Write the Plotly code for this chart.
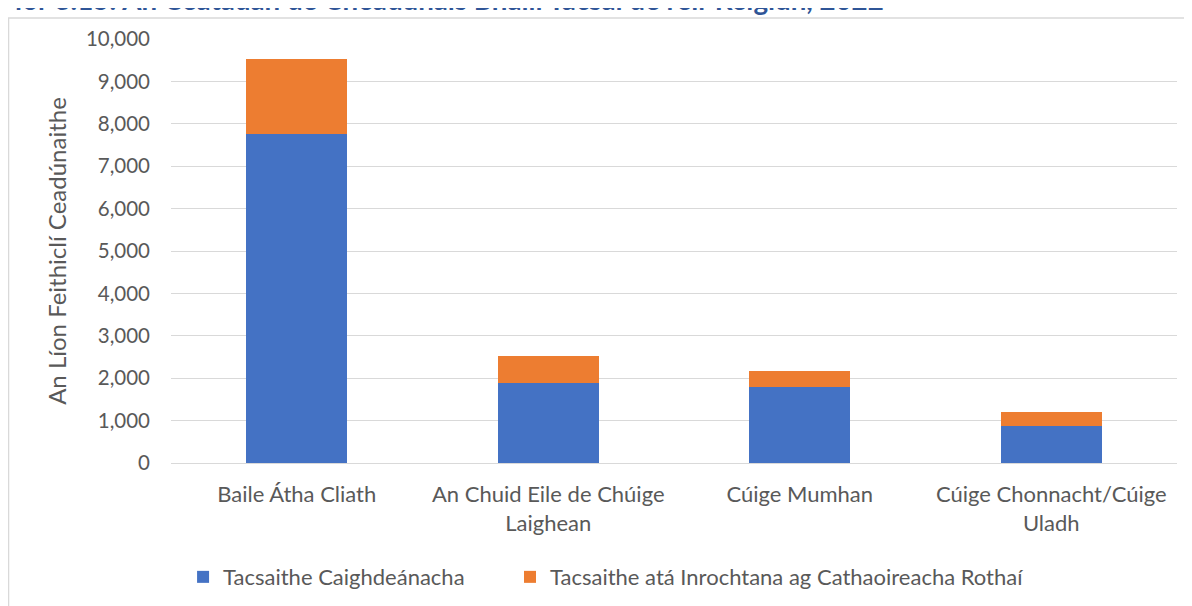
import plotly.graph_objects as go

regions = [
    'Baile Átha Cliath',
    'An Chuid Eile de Chúige<br>Laighean',
    'Cúige Mumhan',
    'Cúige Chonnacht/Cúige<br>Uladh',
]
standard_taxis = [7750, 1887, 1783, 863]
wheelchair_taxis = [1778, 627, 394, 330]

FONT = 'Lato'
GREY = '#595959'

fig = go.Figure()

fig.add_trace(
    go.Bar(
        x=regions,
        y=standard_taxis,
        name='Tacsaithe Caighdeánacha',
        marker=dict(color='#4472C4', line=dict(width=0)),
        legend='legend',
    )
)
fig.add_trace(
    go.Bar(
        x=regions,
        y=wheelchair_taxis,
        name='Tacsaithe atá Inrochtana ag Cathaoireacha Rothaí',
        marker=dict(color='#ED7D31', line=dict(width=0)),
        legend='legend2',
    )
)

legend_style = dict(
    orientation='h',
    xanchor='left',
    y=-0.269,
    yanchor='middle',
    font=dict(family=FONT, size=22, color=GREY),
    itemwidth=30,
    bgcolor='rgba(0,0,0,0)',
)

# the page body adds an 8 px offset, so the margins are shifted to match
fig.update_layout(
    barmode='stack',
    bargap=0.6,
    width=1192,
    height=606,
    autosize=False,
    margin=dict(l=163, r=23, t=31, b=151, autoexpand=False),
    paper_bgcolor='white',
    plot_bgcolor='white',
    font=dict(family=FONT, size=20, color=GREY),
    showlegend=True,
    legend=dict(x=0.012, **legend_style),
    legend2=dict(x=0.337, **legend_style),
    xaxis=dict(
        showgrid=False,
        showline=False,
        automargin=False,
        tickfont=dict(family=FONT, size=22, color=GREY),
        ticklabelstandoff=16,
    ),
    yaxis=dict(
        range=[0, 10000],
        dtick=1000,
        tickformat=',',
        automargin=False,
        showgrid=True,
        gridcolor='#D9D9D9',
        gridwidth=1.3,
        zeroline=True,
        zerolinecolor='#D9D9D9',
        zerolinewidth=1.3,
        showline=False,
        tickfont=dict(family=FONT, size=20.5, color=GREY),
        ticklabelstandoff=20,
        title=dict(
            text='An Líon Feithiclí Ceadúnaithe',
            font=dict(family=FONT, size=24, color=GREY),
            standoff=12,
        ),
    ),
)

# chart frame, partly outside the page like in the source picture
fig.add_shape(
    type='rect',
    xref='paper', yref='paper',
    x0=-0.1615, x1=1.05, y0=-0.4, y1=1.0495,
    line=dict(color='#D9D9D9', width=1.5),
    fillcolor='rgba(0,0,0,0)',
    layer='below',
)

# figure caption, cut off at the top edge
fig.add_annotation(
    text='<b>Fíor 3.15: An Céatadán de Cheadúnais Bhailí Tacsaí de réir Réigiún, 2022</b>',
    xref='paper', yref='paper',
    x=-0.172, xanchor='left',
    y=1.092, yanchor='middle',
    showarrow=False,
    font=dict(family=FONT, size=27.7, color='#2F5597'),
)

fig.write_html('out.html')
